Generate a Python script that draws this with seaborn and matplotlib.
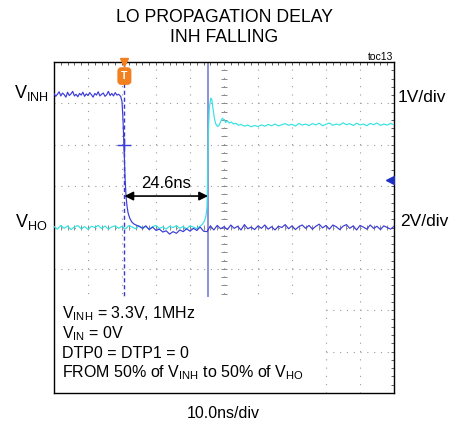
import numpy as np
import pandas as pd
import seaborn as sns
import matplotlib.pyplot as plt
from matplotlib.patches import Rectangle

# scope settings
ns_per_div = 10.0
inh_v_per_div = 1.0
ho_v_per_div = 2.0

# V_INH trace (ns, V)
t_inh = [0, 0.5, 1, 1.5, 2, 2.5, 3, 3.5, 4, 4.5, 5, 5.5, 6, 6.5, 7, 7.5, 8, 8.5,
         9, 9.5, 10, 10.5, 11, 11.5, 12, 12.5, 13, 13.5, 14, 14.5, 15, 15.5, 16,
         16.5, 17, 17.5, 18, 18.5, 19,
         19.6, 20.0, 20.3, 20.6, 20.9, 21.2, 21.5, 21.8, 22.3, 22.9, 23.6, 24.4,
         25, 26, 27, 28, 29, 30, 31, 32, 33, 34, 35, 36, 37, 38, 39, 40, 41, 42,
         43, 44, 45, 46, 47, 48, 49, 50, 51, 52, 53, 54, 55, 56, 57, 58, 59, 60,
         61, 62, 63, 64, 65, 66, 67, 68, 69, 70, 71, 72, 73, 74, 75, 76, 77, 78,
         79, 80, 81, 82, 83, 84, 85, 86, 87, 88, 89, 90, 91, 92, 93, 94, 95, 96,
         97, 98, 99, 100]
v_inh = [3.24, 3.17, 3.22, 3.28, 3.18, 3.25, 3.21, 3.15, 3.27, 3.19, 3.23, 3.29,
         3.18, 3.22, 3.16, 3.24, 3.20, 3.27, 3.17, 3.23, 3.19, 3.26, 3.21, 3.15,
         3.24, 3.20, 3.28, 3.18, 3.22, 3.25, 3.17, 3.21, 3.29, 3.19, 3.24, 3.18,
         3.26, 3.20, 3.22,
         3.17, 3.05, 2.60, 1.94, 1.20, 0.74, 0.50, 0.35, 0.22, 0.13, 0.08, 0.05,
         0.03, -0.02, 0.04, -0.05, 0.01, -0.07, -0.04, -0.11, -0.08, -0.16, -0.10,
         -0.14, -0.06, -0.10, -0.03, -0.09, -0.02, -0.07, 0.01, -0.09, -0.10, 0.04,
         -0.06, 0.05, -0.03, 0.02, -0.05, 0.06, -0.02, 0.03, -0.06, 0.07, -0.03,
         0.01, -0.05, 0.04, -0.02, 0.06, -0.04, 0.02, -0.06, 0.03, 0.00, 0.07,
         -0.03, 0.04, -0.05, 0.02, 0.06, -0.02, 0.05, -0.04, 0.03, 0.08, -0.01,
         0.05, -0.04, 0.06, 0.02, -0.05, 0.03, 0.07, -0.02, 0.04, -0.06, 0.05,
         0.01, -0.04, 0.06, -0.02, 0.03, -0.05, 0.04, 0.00, -0.04, 0.03]

# V_HO trace (ns, V)
t_ho = [0, 1, 2, 3, 4, 5, 6, 7, 8, 9, 10, 11, 12, 13, 14, 15, 16, 17, 18, 19,
        20, 21, 22, 23, 24, 25, 26, 27, 28, 29, 30, 31, 32, 33, 34, 35, 36, 37,
        38, 39, 40, 41, 42, 43,
        43.6, 44.2, 44.7, 45.0, 45.2, 45.4, 45.7, 46.1, 46.4, 46.8, 47.2, 47.6,
        48.1, 48.6, 49.1, 49.5, 50.0, 50.5, 51.0, 51.6, 52.2, 52.8, 53.5, 54.2,
        55, 56, 57, 58, 59, 60, 61, 62, 63, 64, 65, 66, 67, 68, 69, 70, 71, 72,
        73, 74, 75, 76, 77, 78, 79, 80, 81, 82, 83, 84, 85, 86, 87, 88, 89, 90,
        91, 92, 93, 94, 95, 96, 97, 98, 99, 100]
v_ho = [0.05, -0.08, 0.10, -0.04, 0.07, -0.10, 0.03, 0.09, -0.06, 0.04, -0.09,
        0.06, 0.00, 0.10, -0.05, 0.07, -0.08, 0.03, 0.08, -0.04, 0.06, -0.07,
        0.09, 0.02, -0.06, 0.08, -0.03, 0.05, -0.09, 0.04, 0.10, -0.05, 0.03,
        -0.08, 0.06, 0.00, 0.09, -0.04, 0.05, -0.07, 0.08, 0.02, -0.05, 0.07,
        0.15, 0.30, 0.55, 1.00, 2.50, 4.60, 5.80, 6.25, 6.20, 5.70, 5.25, 5.00,
        4.88, 4.95, 5.15, 5.28, 5.20, 5.08, 5.14, 5.05, 5.10, 5.00, 5.04, 4.94,
        4.98, 4.90, 4.95, 4.87, 4.93, 4.88, 4.96, 4.90, 4.98, 4.92, 5.00, 4.91,
        4.97, 5.02, 4.94, 4.99, 4.90, 5.03, 4.95, 5.00, 4.93, 5.02, 4.96, 5.04,
        4.92, 4.99, 5.05, 4.94, 5.00, 4.95, 5.06, 4.97, 5.02, 4.93, 5.04, 4.96,
        5.00, 4.92, 5.03, 4.97, 5.05, 4.94, 5.00, 4.95, 5.03, 4.97]

# cursors: trigger (50% of V_INH) and 50% of V_HO
t_trigger = 20.7
t_cursor = 45.3
trig_level = 2.0      # V on V_INH channel
ref_marker = 1.15     # channel reference arrow, div
delay_label = "24.6ns"

notes = [r"V$_{\mathrm{INH}}$ = 3.3V, 1MHz",
         r"V$_{\mathrm{IN}}$ = 0V",
         "DTP0 = DTP1 = 0",
         r"FROM 50% of V$_{\mathrm{INH}}$ to 50% of V$_{\mathrm{HO}}$"]

inh = pd.DataFrame({"t": t_inh, "div": np.array(v_inh) / inh_v_per_div})
ho = pd.DataFrame({"t": t_ho, "div": np.array(v_ho) / ho_v_per_div})

sns.set_style("white")
plt.rcParams['font.family'] = ['Liberation Sans', 'DejaVu Sans']
plt.rcParams['text.color'] = 'black'
plt.rcParams['mathtext.fontset'] = 'custom'
plt.rcParams['mathtext.rm'] = 'Liberation Sans'
plt.rcParams['mathtext.it'] = 'Liberation Sans:italic'

W, H = 453, 425
fig = plt.figure(figsize=(W / 100, H / 100), dpi=100)
ax = fig.add_axes([54 / W, 1 - 393 / H, 340 / W, 331 / H])

xmax = 10 * ns_per_div
ax.set_xlim(0, xmax)
ax.set_ylim(-4, 4)

# graticule: one dot per minor division
dot = '#9a9a9a'
for gx in np.arange(ns_per_div, xmax, ns_per_div):
    ax.axvline(gx, color=dot, lw=0.8, linestyle=(0, (1, 6.45)), zorder=1)
for gy in np.arange(-3, 4, 1):
    ax.axhline(gy, color=dot, lw=0.8, linestyle=(0, (1, 5.12)), zorder=1)
# center crosshair minor ticks
mx = np.arange(0, xmax + 0.1, ns_per_div / 5)
ax.vlines(mx, -0.07, 0.07, color='#8a8a8a', lw=0.7, zorder=1)
my = np.arange(-4, 4.01, 0.2)
ax.hlines(my, xmax / 2 - 0.9, xmax / 2 + 0.9, color='#8a8a8a', lw=0.7, zorder=1)

ax.set_xticks(np.arange(0, xmax + 1, ns_per_div))
ax.set_xticks(mx, minor=True)
ax.set_yticks(np.arange(-4, 5, 1))
ax.set_yticks(my, minor=True)
ax.tick_params(which='both', direction='in', length=2.5, width=0.6, color='#444',
               top=True, right=True, labelbottom=False, labelleft=False)
for s in ax.spines.values():
    s.set_color('black')
    s.set_linewidth(1.0)

# cursor lines
ax.axvline(t_trigger, color='#3a3ad0', lw=1.0, linestyle=(0, (3, 2)), zorder=2)
ax.axvline(t_cursor, color='#8888d8', lw=1.3, zorder=2)

# traces
sns.lineplot(data=ho, x="t", y="div", ax=ax, color='#35e2e2', lw=0.85,
             sort=False, estimator=None, zorder=3)
sns.lineplot(data=inh, x="t", y="div", ax=ax, color='#3b3bd8', lw=0.85,
             sort=False, estimator=None, zorder=3)
ax.set_xlabel("")
ax.set_ylabel("")

# trigger marks
ax.plot(t_trigger, trig_level / inh_v_per_div, marker='+', ms=10, mew=1.0,
        color='#3b3bd8', zorder=4)
ax.plot(t_trigger, 4, marker='v', ms=6, color='#f08020', clip_on=False, zorder=5)
ax.text(t_trigger, 3.66, "T", color='white', fontsize=7.5, fontweight='bold',
        ha='center', va='center', zorder=5,
        bbox=dict(boxstyle='round,pad=0.3', fc='#f08020', ec='#f08020'))
ax.plot(xmax - 1.2, ref_marker, marker='<', ms=6, color='#2030c0', zorder=5)

# delay arrow
y_arrow = 0.76
ax.annotate("", xy=(t_cursor, y_arrow), xytext=(t_trigger, y_arrow),
            arrowprops=dict(arrowstyle='<|-|>', color='black', lw=1.2,
                            mutation_scale=13, shrinkA=0, shrinkB=0), zorder=6)
ax.text((t_trigger + t_cursor) / 2, 1.06, delay_label, fontsize=12,
        ha='center', va='center', zorder=6)

# white note box
ax.add_patch(Rectangle((0, 0), 0.794, 0.29, transform=ax.transAxes,
                       fc='white', ec='none', zorder=2.4))
for i, line in enumerate(notes):
    fig.text(62 / W, 1 - (314 + 19.6 * i) / H, line, fontsize=11.5,
             ha='left', va='center')

# labels around the screen
fig.text(224 / W, 1 - 17 / H, "LO PROPAGATION DELAY", fontsize=12.7,
         ha='center', va='center')
fig.text(224 / W, 1 - 38 / H, "INH FALLING", fontsize=12.7,
         ha='center', va='center')
fig.text(393 / W, 1 - 57 / H, "toc13", fontsize=7.5, ha='right', va='center')
fig.text(14 / W, 1 - 93 / H, r"V$_{\mathrm{INH}}$", fontsize=13,
         ha='left', va='center')
fig.text(15 / W, 1 - 222 / H, r"V$_{\mathrm{HO}}$", fontsize=13,
         ha='left', va='center')
fig.text(398 / W, 1 - 97 / H, "1V/div", fontsize=12.5, ha='left', va='center')
fig.text(400 / W, 1 - 222 / H, "2V/div", fontsize=12.5, ha='left', va='center')
fig.text(223 / W, 1 - 413 / H, "10.0ns/div", fontsize=11.5,
         ha='center', va='center')

plt.savefig("out.png", dpi=100)
